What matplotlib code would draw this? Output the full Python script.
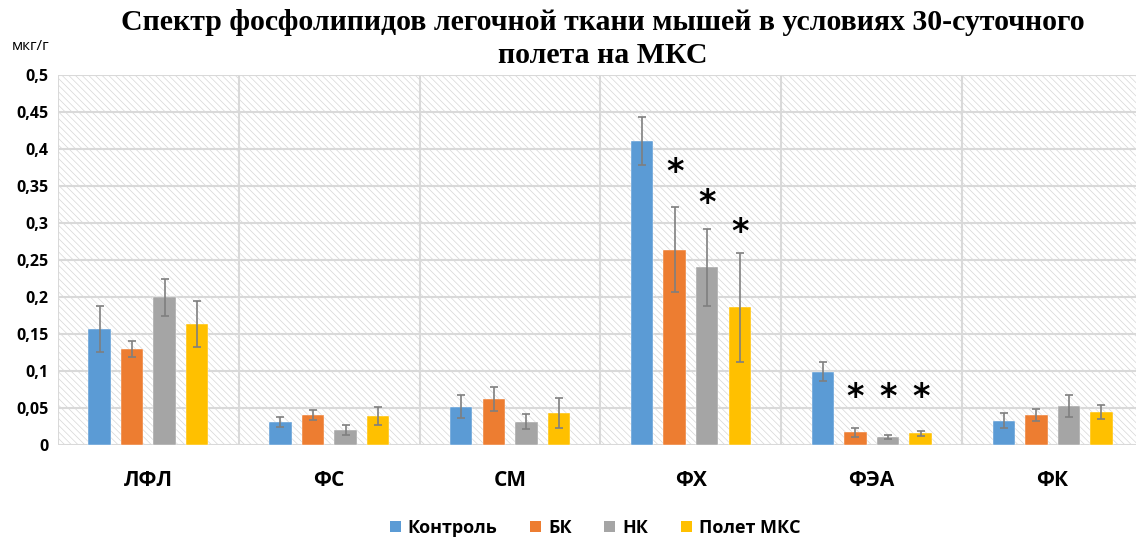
import matplotlib
matplotlib.use("Agg")
import matplotlib.pyplot as plt
from matplotlib.patches import Rectangle, Patch
import numpy as np

categories = ["ЛФЛ", "ФС", "СМ", "ФХ", "ФЭА", "ФК"]
series = ["Контроль", "БК", "НК", "Полет МКС"]
colors = ["#5B9BD5", "#ED7D31", "#A5A5A5", "#FFC000"]

control = [0.157, 0.0315, 0.052, 0.411, 0.099, 0.033]
bk      = [0.130, 0.0405, 0.062, 0.264, 0.017, 0.0405]
nk      = [0.200, 0.020, 0.0315, 0.2405, 0.011, 0.053]
polet   = [0.164, 0.039, 0.043, 0.186, 0.0158, 0.0446]

control_err = [0.031, 0.007, 0.016, 0.032, 0.013, 0.010]
bk_err      = [0.011, 0.007, 0.016, 0.057, 0.006, 0.008]
nk_err      = [0.025, 0.007, 0.010, 0.052, 0.003, 0.015]
polet_err   = [0.031, 0.012, 0.020, 0.074, 0.003, 0.010]

values = [control, bk, nk, polet]
errors = [control_err, bk_err, nk_err, polet_err]

# significance marks: (category index, series index, y of the asterisk)
stars = [(3, 1, 0.368), (3, 2, 0.326), (3, 3, 0.287),
         (4, 1, 0.064), (4, 2, 0.064), (4, 3, 0.064)]

yticks = [0, 0.05, 0.1, 0.15, 0.2, 0.25, 0.3, 0.35, 0.4, 0.45, 0.5]

fig = plt.figure(figsize=(11.36, 5.40), dpi=100)
ax = fig.add_axes([58/1136, 95/540, (1143-58)/1136, 370/540])

plt.rcParams['hatch.linewidth'] = 0.5
bg = Rectangle((0, 0), 1, 1, transform=ax.transAxes, facecolor="white",
               edgecolor="#d6d6d6", hatch="\\\\\\\\\\", linewidth=0, zorder=0)
ax.add_patch(bg)

x = np.arange(len(categories))
step = 0.18
width = 0.124
for i, (vals, errs, c, name) in enumerate(zip(values, errors, colors, series)):
    pos = x + (i - 1.5) * step
    ax.bar(pos, vals, width, color=c, label=name, zorder=3,
           edgecolor="white", linewidth=0.3)
    ax.errorbar(pos, vals, yerr=errs, fmt="none", ecolor="#7f7f7f",
                elinewidth=1.2, capsize=3, capthick=1.2, zorder=4)

for ci, si, y in stars:
    ax.text(x[ci] + (si - 1.5) * step, y, "*", ha="center", va="center",
            fontsize=24, fontweight="bold", family="DejaVu Sans", zorder=5)

ax.set_xlim(-0.5, len(categories) - 0.5)
ax.set_ylim(0, 0.5)
ax.set_yticks(yticks)
ax.set_yticklabels([("%g" % t).replace(".", ",") for t in yticks],
                   fontsize=11.5, fontweight="bold", family="Open Sans")
ax.set_xticks(x)
ax.set_xticklabels(categories, fontsize=15, fontweight="bold", family="Open Sans")
ax.tick_params(axis="both", length=0)
ax.tick_params(axis="x", pad=18)
ax.tick_params(axis="y", pad=7)

for t in yticks:
    ax.axhline(t, color="#d9d9d9", linewidth=1.5, zorder=1)
for b in np.arange(-0.5, len(categories) + 0.5, 1):
    ax.axvline(b, color="#d9d9d9", linewidth=1.5, zorder=1)
for s in ax.spines.values():
    s.set_visible(False)

fig.text(12/1136, 1 - 47/540, "мкг/г", fontsize=11, family="Open Sans",
         va="center", ha="left")

fig.text(603/1136, 1 - 39/540,
         "Спектр фосфолипидов легочной ткани мышей в условиях 30-суточного\nполета на МКС",
         ha="center", va="center", fontsize=21.5, fontweight="bold",
         family="Liberation Serif", linespacing=1.3)

handles = [Patch(facecolor=c, label=n) for c, n in zip(colors, series)]
fig.legend(handles=handles, loc="center", bbox_to_anchor=(595/1136, 1 - 528/540),
           ncol=4, frameon=False, handlelength=0.6, handleheight=0.6,
           handletextpad=0.4, columnspacing=1.8,
           prop={"family": "Open Sans", "weight": "bold", "size": 13})

fig.savefig("out.png", dpi=100)
